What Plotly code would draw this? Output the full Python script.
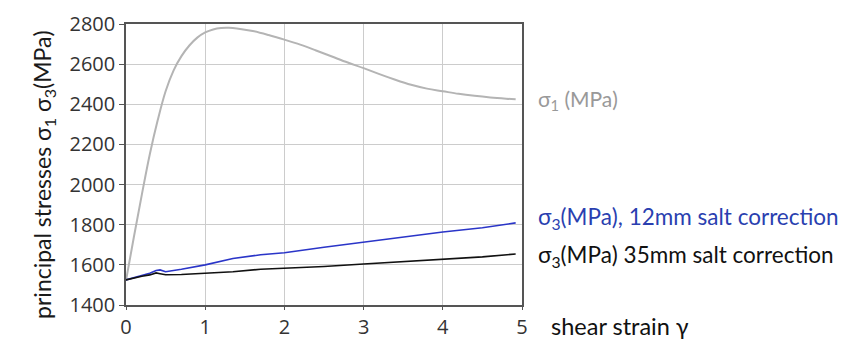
import plotly.graph_objects as go

# shear strain values (x) and stresses
gamma_s1 = [0, 0.1, 0.2, 0.3, 0.4, 0.5, 0.6, 0.7, 0.8, 0.9, 1.0, 1.1, 1.2, 1.3, 1.4,
            1.6, 1.8, 2.0, 2.2, 2.4, 2.6, 2.8, 3.0, 3.2, 3.4, 3.6, 3.8, 4.0, 4.2, 4.4, 4.6, 4.8, 4.92]
sigma1 = [1522, 1740, 1950, 2150, 2320, 2465, 2568, 2640, 2693, 2732, 2758, 2773, 2780, 2781, 2778,
          2765, 2745, 2722, 2697, 2668, 2638, 2608, 2580, 2550, 2522, 2497, 2478, 2465, 2452, 2442, 2434, 2428, 2425]

gamma_s3 = [0, 0.1, 0.2, 0.3, 0.38, 0.43, 0.5, 0.7, 1.0, 1.35, 1.7, 2.0, 2.5, 3.0, 3.35, 3.7, 4.0, 4.5, 4.92]
sigma3_12 = [1525, 1537, 1548, 1558, 1572, 1575, 1566, 1578, 1600, 1632, 1650, 1660, 1688, 1714, 1733, 1752, 1764, 1785, 1809]
sigma3_35 = [1525, 1535, 1543, 1550, 1560, 1556, 1551, 1552, 1559, 1566, 1578, 1582, 1592, 1604, 1612, 1622, 1629, 1640, 1654]

x_ticks = [0, 1, 2, 3, 4, 5]
y_ticks = [1400, 1600, 1800, 2000, 2200, 2400, 2600, 2800]

TICK_FONT = "Open Sans"
LABEL_FONT = "Lato"

fig = go.Figure()
fig.add_trace(go.Scatter(x=gamma_s1, y=sigma1, mode="lines", line=dict(color="#b4b4b4", width=2, shape="spline"),
                         showlegend=False))
fig.add_trace(go.Scatter(x=gamma_s3, y=sigma3_12, mode="lines", line=dict(color="#2a35c8", width=1.6),
                         showlegend=False))
fig.add_trace(go.Scatter(x=gamma_s3, y=sigma3_35, mode="lines", line=dict(color="#111111", width=1.6),
                         showlegend=False))

fig.update_layout(
    width=848, height=339,
    margin=dict(l=118, r=334, t=16, b=42),
    paper_bgcolor="white", plot_bgcolor="white",
    font=dict(family=TICK_FONT, size=20, color="#333333"),
    xaxis=dict(range=[0, 5], tickvals=x_ticks, showgrid=True, gridcolor="#cccccc", gridwidth=1,
               showline=True, linecolor="#555555", linewidth=1.5, mirror=True, automargin=False,
               ticks="outside", ticklen=3, tickcolor="#555555", zeroline=False),
    yaxis=dict(range=[1400, 2800], tickvals=y_ticks, showgrid=True, gridcolor="#cccccc", gridwidth=1,
               showline=True, linecolor="#555555", linewidth=1.5, mirror=True, automargin=False,
               ticks="outside", ticklen=5, tickcolor="#555555", zeroline=False),
    annotations=[
        dict(text="principal stresses σ<sub>1</sub> σ<sub>3</sub>(MPa)", xref="paper", yref="paper",
             x=-0.21, y=0.466, xanchor="center", yanchor="middle", textangle=-90, showarrow=False,
             font=dict(family=LABEL_FONT, size=23, color="#1a1a1a")),
        dict(text="σ<sub>1</sub> (MPa)", xref="paper", yref="paper", x=1.035, y=0.73,
             xanchor="left", yanchor="middle", showarrow=False,
             font=dict(family=LABEL_FONT, size=21, color="#999999")),
        dict(text="σ<sub>3</sub>(MPa), 12mm salt correction", xref="paper", yref="paper", x=1.035, y=0.31,
             xanchor="left", yanchor="middle", showarrow=False,
             font=dict(family=LABEL_FONT, size=22.5, color="#2a3fb0")),
        dict(text="σ<sub>3</sub>(MPa) 35mm salt correction", xref="paper", yref="paper", x=1.035, y=0.175,
             xanchor="left", yanchor="middle", showarrow=False,
             font=dict(family=LABEL_FONT, size=22.5, color="#111111")),
        dict(text="shear strain γ", xref="paper", yref="paper", x=1.068, y=-0.075,
             xanchor="left", yanchor="middle", showarrow=False,
             font=dict(family=LABEL_FONT, size=23.5, color="#111111")),
    ],
)

fig.write_html("out.html")
